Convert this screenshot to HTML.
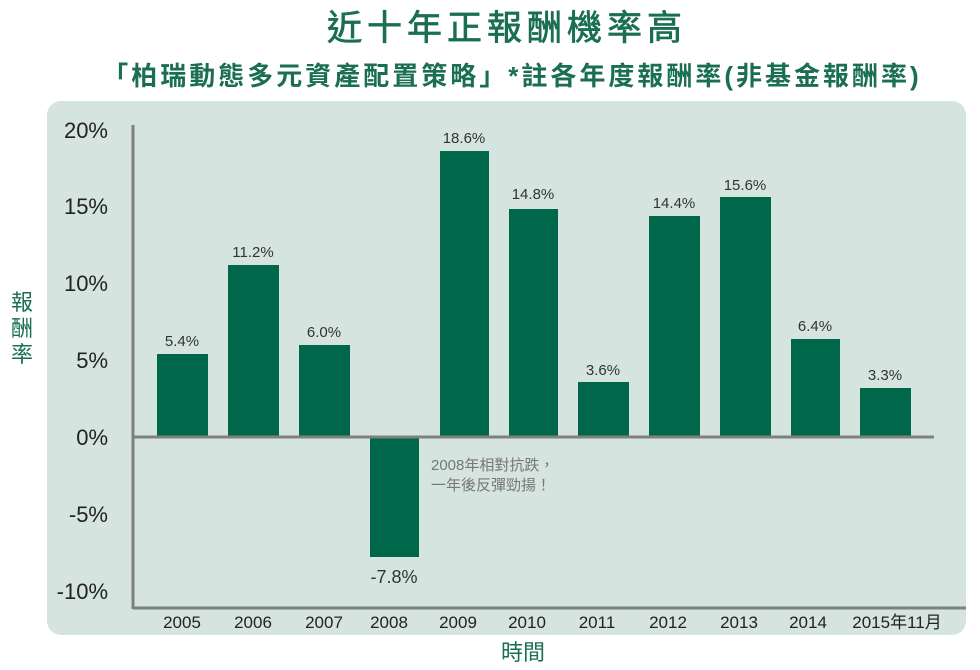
<!DOCTYPE html>
<html><head><meta charset="utf-8"><style>
html,body{margin:0;padding:0;background:#fff;width:980px;height:670px;overflow:hidden}
svg{display:block}
</style></head><body>
<svg width="980" height="670" viewBox="0 0 980 670" xmlns="http://www.w3.org/2000/svg" font-family="'Liberation Sans','Noto Sans CJK TC',sans-serif">
<text x="507" y="40" text-anchor="middle" font-size="35" fill="#1a6e52" letter-spacing="5" stroke="#1a6e52" stroke-width="0.7">近十年正報酬機率高</text>
<text x="512" y="85" text-anchor="middle" font-size="26" font-weight="bold" fill="#1a6e52" letter-spacing="3">「柏瑞動態多元資產配置策略」*註各年度報酬率(非基金報酬率)</text>
<rect x="47" y="101" width="919" height="534" rx="14" fill="#d5e4de"/>
<g font-size="22" fill="#222" text-anchor="end">
<text x="108" y="138">20%</text><text x="108" y="214">15%</text><text x="108" y="291">10%</text>
<text x="108" y="368">5%</text><text x="108" y="445">0%</text><text x="108" y="522">-5%</text><text x="108" y="599">-10%</text>
</g>
<g font-size="22" fill="#1a6e52" text-anchor="middle">
<text x="22" y="310">報</text><text x="22" y="336">酬</text><text x="22" y="362">率</text>
</g>
<g fill="#00674a">
<rect x="157" y="354" width="51" height="83"/>
<rect x="228" y="265" width="51" height="172"/>
<rect x="299" y="345" width="51" height="92"/>
<rect x="370" y="437" width="49" height="120"/>
<rect x="440" y="151" width="49" height="286"/>
<rect x="509" y="209" width="49" height="228"/>
<rect x="578" y="382" width="51" height="55"/>
<rect x="649" y="216" width="51" height="221"/>
<rect x="720" y="197" width="51" height="240"/>
<rect x="791" y="339" width="49" height="98"/>
<rect x="860" y="388" width="51" height="49"/>
</g>
<line x1="133" y1="437" x2="934" y2="437" stroke="#808080" stroke-width="3"/>
<line x1="133" y1="125" x2="133" y2="609" stroke="#808080" stroke-width="3"/>
<line x1="133" y1="608" x2="966" y2="608" stroke="#808080" stroke-width="3"/>
<g font-size="15" fill="#333" text-anchor="middle">
<text x="182" y="346">5.4%</text><text x="253" y="257">11.2%</text><text x="324" y="337">6.0%</text>
<text x="394" y="583" font-size="18">-7.8%</text><text x="464" y="143">18.6%</text><text x="533" y="199">14.8%</text>
<text x="603" y="375">3.6%</text><text x="674" y="208">14.4%</text><text x="745" y="190">15.6%</text>
<text x="815" y="331">6.4%</text><text x="885" y="380">3.3%</text>
</g>
<g font-size="15" fill="#777">
<text x="431" y="470">2008年相對抗跌，</text><text x="431" y="490">一年後反彈勁揚！</text>
</g>
<g font-size="17" fill="#222" text-anchor="middle">
<text x="182" y="628">2005</text><text x="253" y="628">2006</text><text x="324" y="628">2007</text>
<text x="389" y="628">2008</text><text x="458" y="628">2009</text><text x="527" y="628">2010</text>
<text x="597" y="628">2011</text><text x="668" y="628">2012</text><text x="739" y="628">2013</text>
<text x="808" y="628">2014</text><text x="897" y="628">2015年11月</text>
</g>
<text x="523" y="660" text-anchor="middle" font-size="22" fill="#1a6e52">時間</text>
</svg>
</body></html>
